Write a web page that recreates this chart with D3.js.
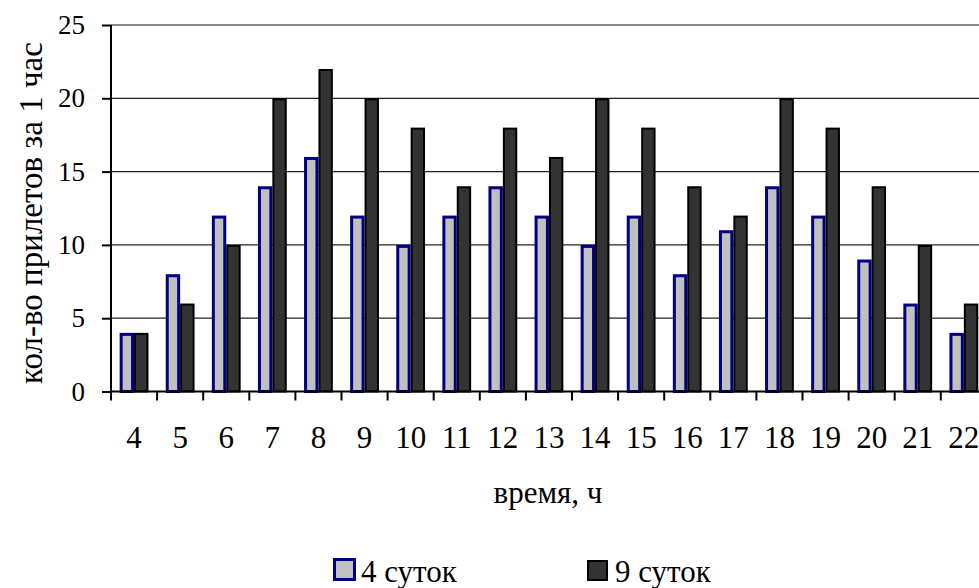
<!DOCTYPE html>
<html><head><meta charset="utf-8">
<script src="https://cdn.jsdelivr.net/npm/d3@7"></script>
</head><body style="margin:0">
<svg id="c" width="979" height="588" style="display:block;background:#fff"></svg>
<script>
const hours = ["4","5","6","7","8","9","10","11","12","13","14","15","16","17","18","19","20","21","22"];
const days4 = [4,8,12,14,16,12,10,12,14,12,10,12,8,11,14,12,9,6,4];
const days9 = [4,6,10,20,22,20,18,14,18,16,20,18,14,12,20,18,14,10,6];
const yTicks = [0,5,10,15,20,25];
const seriesNames = ["4 суток","9 суток"];

const FONT = `"Liberation Serif", "Times New Roman", Tinos, serif`;
const svg = d3.select("#c");
const pLeft = 111, pTop = 25, pBottom = 391.5, band = 46.1;
const x = d3.scaleBand().domain(hours).range([pLeft, pLeft + band*hours.length]).padding(0);
const y = d3.scaleLinear().domain([0,25]).range([pBottom, pTop]);

// gridlines
svg.append("g").selectAll("line").data(yTicks.filter(d=>d>0)).join("line")
  .attr("x1", pLeft).attr("x2", 979).attr("y1", d=>y(d)).attr("y2", d=>y(d))
  .attr("stroke", d=> d===25 ? "#888" : "#222").attr("stroke-width", d=> d===25 ? 2 : 1.2);

// bars
const bw = 14.4, off = (band - 2*bw)/2;
const g = svg.append("g");
g.selectAll("rect.s1").data(days4).join("rect").attr("class","s1")
  .attr("x", (d,i)=>x(hours[i]) + off + 1.5).attr("width", bw - 3)
  .attr("y", d=>y(d) + 1.5).attr("height", d=>pBottom - y(d) - 1.5)
  .attr("fill", "#c0c0c0").attr("stroke", "#000080").attr("stroke-width", 3);
g.selectAll("rect.s2").data(days9).join("rect").attr("class","s2")
  .attr("x", (d,i)=>x(hours[i]) + off + bw + 1).attr("width", bw - 2)
  .attr("y", d=>y(d) + 1).attr("height", d=>pBottom - y(d) - 1)
  .attr("fill", "#333333").attr("stroke", "#000").attr("stroke-width", 2);

// y axis
const ya = svg.append("g").attr("transform", `translate(${pLeft},0)`)
  .call(d3.axisLeft(y).tickValues(yTicks).tickSize(9).tickPadding(17));
ya.attr("font-family", null).attr("font-size", null);
ya.select(".domain").attr("stroke","#000").attr("stroke-width",2).attr("d", `M0,${pTop}V${pBottom}`);
ya.selectAll(".tick line").attr("stroke","#000").attr("stroke-width",2);
ya.selectAll(".tick text").style("font-family", FONT).attr("font-size", 27).attr("fill","#000");

// x axis
const xa = svg.append("g").attr("transform", `translate(0,${pBottom})`);
xa.append("line").attr("x1", pLeft).attr("x2", 979).attr("stroke","#000").attr("stroke-width",2);
xa.selectAll("line.t").data(hours.map((h,i)=>i)).join("line").attr("class","t")
  .attr("x1", i=>x(hours[i])).attr("x2", i=>x(hours[i])).attr("y1",0).attr("y2",9)
  .attr("stroke","#000").attr("stroke-width",2);
xa.selectAll("text").data(hours).join("text")
  .attr("x", d=>x(d) + band/2).attr("y", 448 - pBottom).attr("text-anchor","middle")
  .style("font-family", FONT).attr("font-size", 31).text(d=>d);

// axis titles
svg.append("text").attr("x", 548).attr("y", 503).attr("text-anchor","middle")
  .style("font-family", FONT).attr("font-size", 31).text("время, ч");
svg.append("text").attr("transform", "translate(42,213) rotate(-90)").attr("text-anchor","middle")
  .style("font-family", FONT).attr("font-size", 33).text("кол-во прилетов за 1 час");

// legend
const leg = svg.append("g");
const lx = [333, 587];
leg.append("rect").attr("x", lx[0]+1.5).attr("y", 559.5).attr("width", 20).attr("height", 20)
  .attr("fill","#c0c0c0").attr("stroke","#000080").attr("stroke-width",3);
leg.append("rect").attr("x", lx[1]+1).attr("y", 561).attr("width", 19).attr("height", 19)
  .attr("fill","#333333").attr("stroke","#000").attr("stroke-width",2);
leg.selectAll("text").data(seriesNames).join("text")
  .attr("x", (d,i)=>lx[i] + 28).attr("y", 582)
  .style("font-family", FONT).attr("font-size", 31).text(d=>d);
</script>
</body></html>
